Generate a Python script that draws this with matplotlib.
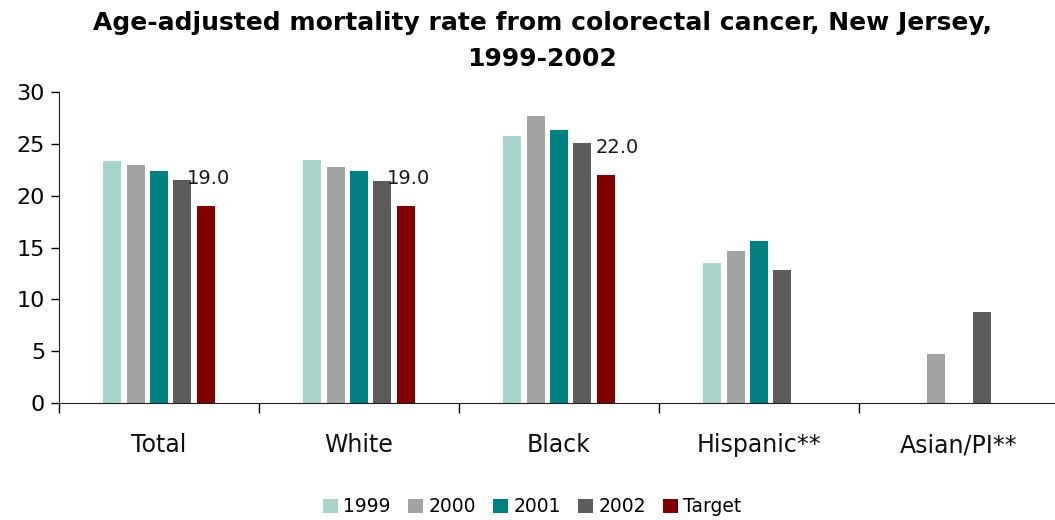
import numpy as np
import matplotlib
matplotlib.use("Agg")
import matplotlib.pyplot as plt
from matplotlib.ticker import FixedLocator, NullFormatter

categories = ["Total", "White", "Black", "Hispanic**", "Asian/PI**"]
series_names = ["1999", "2000", "2001", "2002", "Target"]
rate_1999 = [23.3, 23.4, 25.8, 13.5, np.nan]
rate_2000 = [23.0, 22.8, 27.7, 14.7, 4.7]
rate_2001 = [22.4, 22.4, 26.3, 15.6, np.nan]
rate_2002 = [21.5, 21.4, 25.1, 12.8, 8.8]
target = [19.0, 19.0, 22.0, np.nan, np.nan]
colors = ["#a9d5cc", "#a3a3a3", "#008080", "#5c5c5c", "#800000"]

plt.rcParams["font.family"] = ["DejaVu Sans"]

fig = plt.figure(figsize=(10.55, 5.2), dpi=100)
ax = fig.add_axes([59 / 1055, 1 - 403 / 520, (1055 - 59) / 1055, (403 - 92) / 520])

x = np.arange(len(categories))
step = 0.117
width = 0.09
all_series = [rate_1999, rate_2000, rate_2001, rate_2002, target]
for i, (vals, name, col) in enumerate(zip(all_series, series_names, colors)):
    ax.bar(x + (i - 2) * step, vals, width, color=col, label=name)

# target labels
for xi, v in zip(x, target):
    if not np.isnan(v):
        dx = 2 if v < 20 else 8
        ax.annotate(f"{v:.1f}", (xi + 2 * step, v), xytext=(dx, 13),
                    textcoords="offset points", ha="center", va="bottom",
                    fontsize=14, color="#1a1a1a")

ax.set_ylim(0, 30)
ax.set_xlim(-0.5, 4.48)
ax.set_yticks(range(0, 31, 5))
ax.tick_params(axis="y", labelsize=16, length=6, width=1, direction="out", pad=4)
ax.xaxis.set_major_locator(FixedLocator(np.arange(-0.5, 5, 1)))
ax.xaxis.set_major_formatter(NullFormatter())
ax.tick_params(axis="x", length=7, width=1, direction="out")
for xi, c in zip(x, categories):
    ax.text(xi, -2.9, c, ha="center", va="top", fontsize=17, color="#111111")

for s in ["top", "right"]:
    ax.spines[s].set_visible(False)
ax.spines["left"].set_color("#222222")
ax.spines["bottom"].set_color("#222222")

fig.suptitle("Age-adjusted mortality rate from colorectal cancer, New Jersey,\n1999-2002",
             fontsize=18, fontweight="bold", x=0.514, y=0.978, linespacing=1.6)

ax.legend(loc="center", bbox_to_anchor=(532 / 1055, 1 - 507 / 520),
          bbox_transform=fig.transFigure, ncol=5, frameon=False, fontsize=13.5,
          handlelength=0.8, handleheight=0.8, handletextpad=0.3, columnspacing=0.9)

fig.savefig("out.png", dpi=100)
